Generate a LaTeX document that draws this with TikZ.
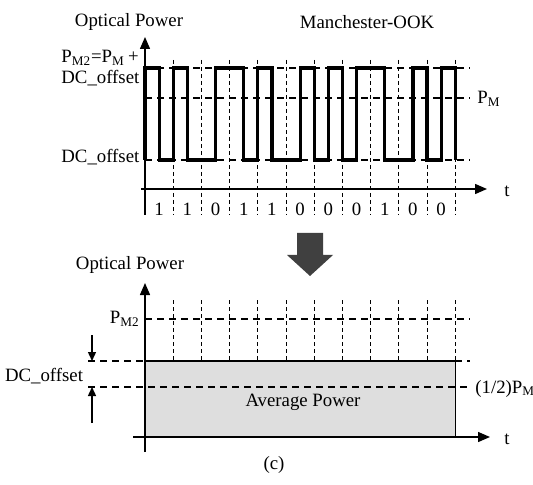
\documentclass[tikz,border=0pt]{standalone}
\usepackage{fontspec}
\setmainfont{Liberation Serif}
\usetikzlibrary{arrows.meta}

\begin{document}
\begin{tikzpicture}[x=0.5pt,y=-0.5pt,
    axis/.style={line width=0.7pt,-{Triangle[length=6pt,width=5pt]}},
    wave/.style={line width=1.6pt,line join=miter},
    level/.style={line width=0.8pt,dash pattern=on 3.5pt off 2.5pt},
    slot/.style={line width=0.5pt,dash pattern=on 2pt off 1.5pt},
    lbl/.style={font=\fontsize{9.4}{11}\selectfont,inner sep=0pt}]
  \useasboundingbox (0,0) rectangle (533,485);

  % upper plot: Manchester-OOK waveform
  \foreach \k in {1,...,11}
    \draw[slot] (145+28.2*\k,60) -- (145+28.2*\k,215);
  \draw[level] (145,68) -- (470,68);
  \draw[level] (145,98) -- (470,98);
  \draw[level] (145,160) -- (470,160);
  \draw[wave] (145,160) |- (159.1,68) |- (173.2,160) |- (187.3,68) |- (215.5,160)
    |- (243.7,68) |- (257.8,160) |- (271.9,68) |- (300.1,160) |- (314.2,68)
    |- (328.3,160) |- (342.4,68) |- (356.5,160) |- (384.7,68) |- (412.9,160)
    |- (427,68) |- (441.1,160) |- (455.2,68) -- (455.2,160);
  \draw[axis] (145,215) -- (145,37);
  \draw[axis] (141,189) -- (487,189);

  \node[lbl] (optop) at (129,22) {Optical Power};
  \node[lbl] (title) at (367,22) {Manchester-OOK};
  \node[lbl,anchor=west] (pmtwo) at (61,58) {P\textsubscript{M2}=P\textsubscript{M}\,+};
  \node[lbl,anchor=west] (dchigh) at (61,78) {DC\_offset};
  \node[lbl,anchor=west] (dclow) at (61,157) {DC\_offset};
  \node[lbl,anchor=west] (pm) at (477,99) {P\textsubscript{M}};
  \node[lbl] (ttop) at (507,191) {t};
  \foreach \b [count=\i from 0] in {1,1,0,1,1,0,0,0,1,0,0}
    \node[lbl] (bit\i) at (159.1+28.2*\i,209) {\b};

  % transition arrow
  \fill[black!75] (297,233) -- (323,233) -- (323,255) -- (333,255) -- (310,276)
    -- (287,255) -- (297,255) -- cycle;

  % lower plot: average power
  \fill[black!13] (145,361) rectangle (455.2,437);
  \draw[line width=0.7pt] (145,361) -- (455.2,361) -- (455.2,437);
  \foreach \k in {1,...,11}
    \draw[slot] (145+28.2*\k,300) -- (145+28.2*\k,361);
  \draw[level] (145,319) -- (470,319);
  \draw[level] (88,361) -- (145,361);
  \draw[level] (455.2,361) -- (470,361);
  \draw[level,line width=1.1pt] (88,387) -- (470,387);
  \draw[axis] (145,452) -- (145,283);
  \draw[axis] (133,437) -- (490,437);
  \draw[line width=0.7pt,-{Triangle[length=4.5pt,width=4pt]}] (92,335) -- (92,361);
  \draw[line width=0.7pt,-{Triangle[length=4.5pt,width=4pt]}] (92,423) -- (92,387);

  \node[lbl] (opbot) at (130,265) {Optical Power};
  \node[lbl,anchor=east] (pmtwob) at (140,319) {P\textsubscript{M2}};
  \node[lbl] (dcbot) at (44,376) {DC\_offset};
  \node[lbl,anchor=west] (half) at (475,389) {(1/2)P\textsubscript{M}};
  \node[lbl] (avg) at (303,402) {Average Power};
  \node[lbl] (tbot) at (507,439) {t};
  \node[lbl] (caption) at (274,465) {(c)};
\end{tikzpicture}
\end{document}
